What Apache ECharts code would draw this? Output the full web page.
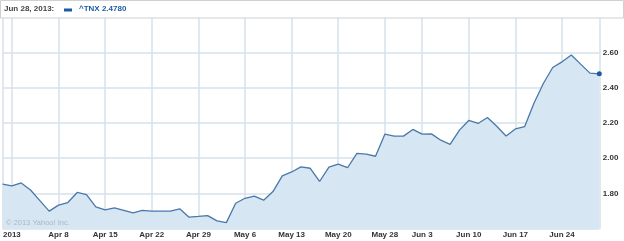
<!DOCTYPE html>
<html>
<head>
<meta charset="utf-8">
<script src="https://cdn.jsdelivr.net/npm/echarts@6/dist/echarts.min.js"></script>
<style>html,body{margin:0;padding:0;background:#fff}#c{width:624px;height:241px}</style>
</head>
<body>
<div id="c"></div>
<script>
var dates = ['Mar 28','Apr 1','Apr 2','Apr 3','Apr 4','Apr 5','Apr 8','Apr 9','Apr 10','Apr 11','Apr 12',
'Apr 15','Apr 16','Apr 17','Apr 18','Apr 19','Apr 22','Apr 23','Apr 24','Apr 25','Apr 26',
'Apr 29','Apr 30','May 1','May 2','May 3','May 6','May 7','May 8','May 9','May 10',
'May 13','May 14','May 15','May 16','May 17','May 20','May 21','May 22','May 23','May 24',
'May 28','May 29','May 30','May 31','Jun 3','Jun 4','Jun 5','Jun 6','Jun 7',
'Jun 10','Jun 11','Jun 12','Jun 13','Jun 14','Jun 17','Jun 18','Jun 19','Jun 20','Jun 21',
'Jun 24','Jun 25','Jun 26','Jun 27','Jun 28'];
var yields = [1.853,1.843,1.860,1.820,1.760,1.700,1.734,1.749,1.806,1.794,1.724,
1.707,1.718,1.705,1.690,1.704,1.700,1.700,1.700,1.713,1.666,
1.670,1.675,1.645,1.635,1.745,1.773,1.785,1.762,1.811,1.900,
1.922,1.951,1.943,1.868,1.949,1.966,1.946,2.027,2.023,2.011,
2.136,2.125,2.125,2.163,2.136,2.138,2.102,2.078,2.159,
2.214,2.197,2.231,2.181,2.126,2.166,2.179,2.313,2.423,2.514,
2.546,2.585,2.533,2.482,2.478];
var tickDates = ['Apr 1','Apr 8','Apr 15','Apr 22','Apr 29','May 6','May 13','May 20','May 28','Jun 3','Jun 10','Jun 17','Jun 24'];
var tickLabels = ['2013','Apr 8','Apr 15','Apr 22','Apr 29','May 6','May 13','May 20','May 28','Jun 3','Jun 10','Jun 17','Jun 24'];
var headerDate = 'Jun 28, 2013:';
var seriesName = '^TNX';
var lastValue = '2.4780';

var chart = echarts.init(document.getElementById('c'));
var gridColor = '#d6e2eb';
var fontFam = '"Liberation Sans", Arial, sans-serif';
function isTick(i){ return tickDates.indexOf(dates[i]) >= 0; }
function isGridLine(i){ return isTick(i) || i === 0 || i === dates.length - 1; }
var seriesData = yields.map(function(v, i){
  if (i === yields.length - 1) return {value: v, symbol: 'circle', symbolSize: 5, itemStyle: {color: '#1d5b9e'}};
  return v;
});
chart.setOption({
  animation: false,
  textStyle: {fontFamily: fontFam},
  grid: {left: 2.4, right: 24.7, top: 17, height: 211.8, containLabel: false},
  xAxis: {
    type: 'category', data: dates, boundaryGap: false,
    axisLine: {show: false}, axisTick: {show: false},
    axisLabel: {
      interval: function(i){ return isTick(i); },
      formatter: function(v){ var k = tickDates.indexOf(v); return k >= 0 ? tickLabels[k] : ''; },
      color: '#333', fontSize: 8, fontWeight: 'bold', fontFamily: fontFam, margin: 2
    },
    splitLine: {show: true, interval: function(i){ return isGridLine(i); }, lineStyle: {color: gridColor, width: 1.5}}
  },
  yAxis: {
    type: 'value', position: 'right', min: 1.6, max: 2.8, interval: 0.2,
    axisLine: {show: false}, axisTick: {show: false},
    axisLabel: {
      color: '#333', fontSize: 8, fontWeight: 'bold', fontFamily: fontFam, margin: 3.5,
      formatter: function(v){ return (v < 1.7 || v > 2.7) ? '' : v.toFixed(2); }
    },
    splitLine: {show: true, lineStyle: {color: gridColor, width: 1.5}}
  },
  series: [{
    type: 'line', data: seriesData, symbol: 'none', showSymbol: true,
    lineStyle: {color: '#4a78a8', width: 1.3},
    areaStyle: {color: '#d6e6f2', opacity: 1},
    z: 3
  }],
  graphic: [
    {type: 'rect', left: 0, top: 0, shape: {width: 623, height: 17.5}, style: {fill: '#fff', stroke: '#d0d0d0', lineWidth: 1}, z: 10},
    {type: 'text', left: 4, top: 4.5, style: {text: headerDate, fill: '#444', font: 'bold 8px "Liberation Sans"'}, z: 11},
    {type: 'rect', left: 64, top: 8.5, shape: {width: 8, height: 3}, style: {fill: '#1d5b9e'}, z: 11},
    {type: 'text', left: 79, top: 4.5, style: {text: seriesName + ' ' + lastValue, fill: '#1d5b9e', font: 'bold 8px "Liberation Sans"'}, z: 11},
    {type: 'text', left: 6, top: 219, style: {text: '\u00a9 2013 Yahoo! Inc.', fill: '#a8b8c6', font: '7.5px "Liberation Sans"'}, z: 11}
  ]
});
</script>
</body>
</html>
